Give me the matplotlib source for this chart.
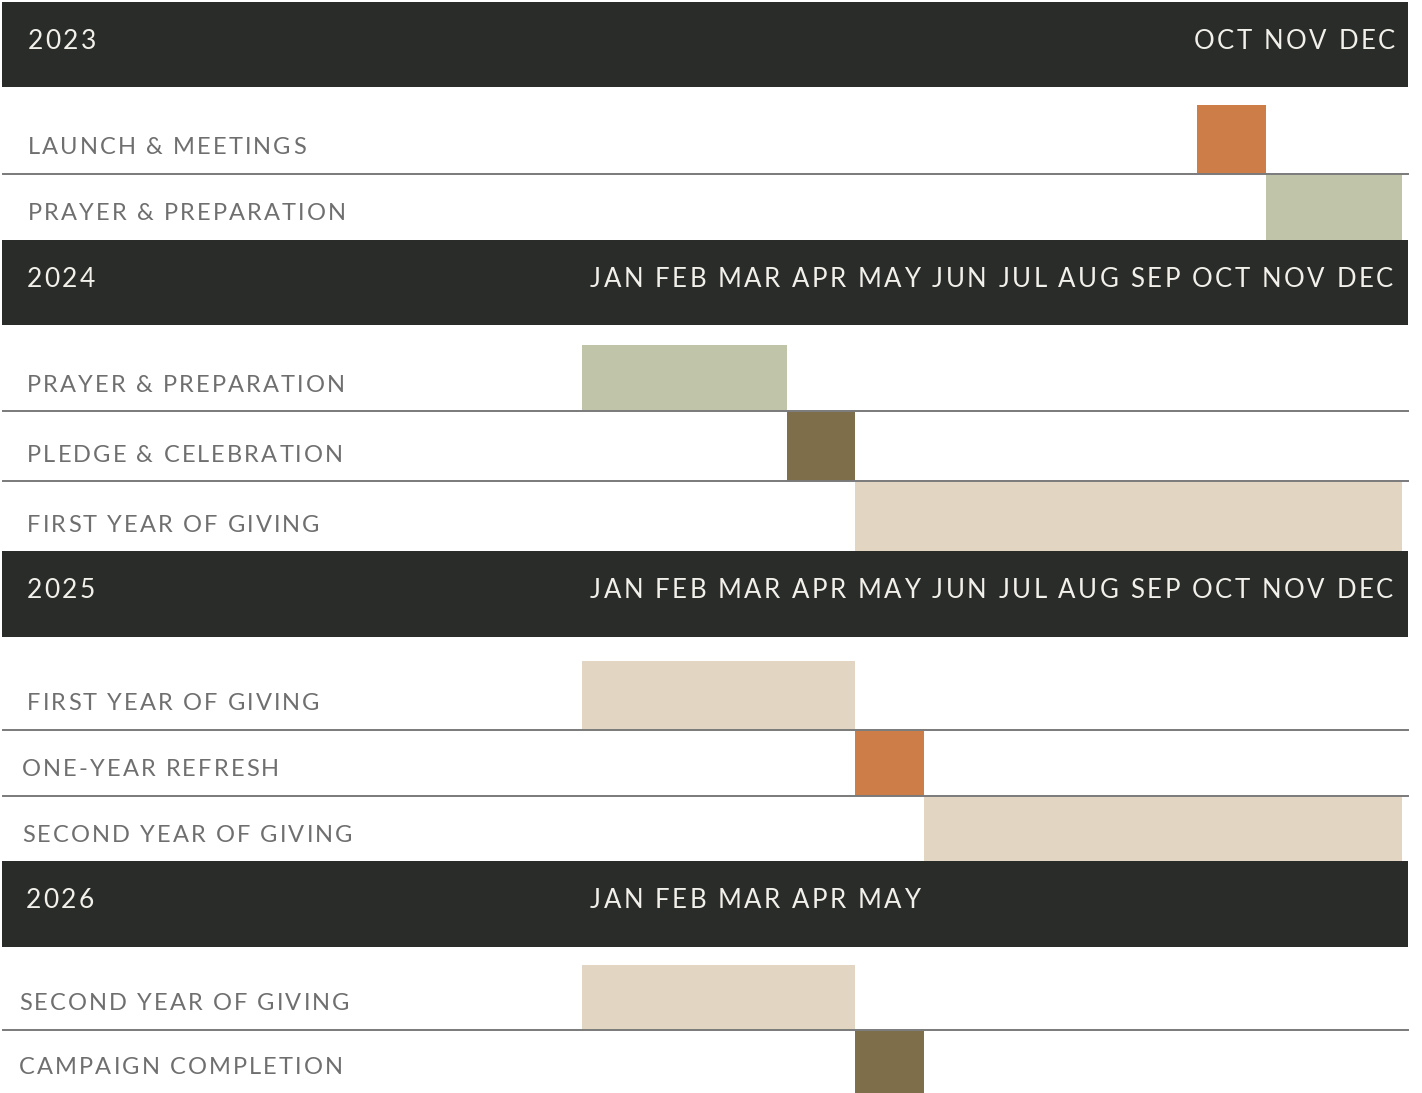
import matplotlib
matplotlib.use("Agg")
import matplotlib.pyplot as plt
from matplotlib.patches import Rectangle
from matplotlib.font_manager import FontProperties

years = ["2023", "2024", "2025", "2026"]
month_names = ["JAN", "FEB", "MAR", "APR", "MAY", "JUN",
               "JUL", "AUG", "SEP", "OCT", "NOV", "DEC"]
year_first_month = [9, 0, 0, 0]
year_last_month = [12, 12, 12, 5]

task_labels = [
    ["LAUNCH & MEETINGS", "PRAYER & PREPARATION"],
    ["PRAYER & PREPARATION", "PLEDGE & CELEBRATION", "FIRST YEAR OF GIVING"],
    ["FIRST YEAR OF GIVING", "ONE-YEAR REFRESH", "SECOND YEAR OF GIVING"],
    ["SECOND YEAR OF GIVING", "CAMPAIGN COMPLETION"],
]
task_start = [[9, 10], [0, 3, 4], [0, 4, 5], [0, 4]]
task_end = [[10, 12], [3, 4, 12], [4, 5, 12], [4, 5]]
task_phase = [
    ["launch", "prayer"],
    ["prayer", "pledge", "giving"],
    ["giving", "launch", "giving"],
    ["giving", "pledge"],
]

phase_colors = {
    "launch": "#cd7d47",
    "prayer": "#c0c4a8",
    "pledge": "#7e6f4a",
    "giving": "#e2d6c2",
}
dark = "#2a2c29"
label_gray = "#6f6f6f"
header_text = "#f2f0ea"
font = "Lato"

# layout in pixels (top, bottom) for each header band and each task row
header_y = [(2, 87), (240, 325), (551, 637), (861, 947)]
row_y = [
    [(105, 174), (175, 240)],
    [(345, 411), (412, 481), (482, 551)],
    [(661, 730), (731, 796), (797, 861)],
    [(965, 1030), (1031, 1093)],
]
label_x = [[28, 28], [27, 27, 27], [27, 22, 22], [19, 19]]
year_x = [28, 27, 27, 26]

W, H = 1422, 1093
x0_px, month_px = 581.5, 68.4
month_left, month_right = 590, 1393

fig = plt.figure(figsize=(W / 100, H / 100), dpi=100)
ax = fig.add_axes([0, 0, 1, 1])
ax.set_xlim(-x0_px / month_px, (W - x0_px) / month_px)
ax.set_ylim(H, 0)
ax.axis("off")
tr = ax.get_yaxis_transform()  # x in axes fraction, y in data
renderer = fig.canvas.get_renderer()


def text_w(s, fp):
    w, h, d = renderer.get_text_width_height_descent(s + "X", fp, ismath=False)
    wx, h, d = renderer.get_text_width_height_descent("X", fp, ismath=False)
    return w - wx


def spaced_text(x_px, y, s, size, color, track, ha="left"):
    # letter-spaced text, drawn one character at a time
    fp = FontProperties(family=font, size=size)
    total = text_w(s, fp) + track * (len(s) - 1)
    if ha == "right":
        x_px = x_px - total
    for k, ch in enumerate(s):
        if ch == " ":
            continue
        xk = x_px + text_w(s[:k], fp) + track * k
        ax.text(xk / W, y, ch, transform=tr, color=color,
                fontproperties=fp, va="center", ha="left")


# tracking for the month strip so that a full year fills the header
month_size = 18.5
full = " ".join(month_names)
fp_m = FontProperties(family=font, size=month_size)
month_track = (month_right - month_left - text_w(full, fp_m)) / (len(full) - 1)

for i, year in enumerate(years):
    top, bot = header_y[i]
    ax.add_patch(Rectangle((2 / W, top), 1406 / W, bot - top,
                           transform=tr, color=dark, lw=0))
    yc = (top + bot) / 2 - 3
    spaced_text(year_x[i], yc, year, 19, header_text, 2.3)
    strip = " ".join(month_names[year_first_month[i]:year_last_month[i]])
    if year_last_month[i] == 12 and year_first_month[i] > 0:
        spaced_text(month_right + 2, yc, strip, month_size, header_text,
                    month_track, ha="right")
    else:
        spaced_text(month_left, yc, strip, month_size, header_text, month_track)

    for j, label in enumerate(task_labels[i]):
        rtop, rbot = row_y[i][j]
        s, e = task_start[i][j], task_end[i][j]
        ax.barh((rtop + rbot) / 2, e - s, left=s, height=rbot - rtop,
                color=phase_colors[task_phase[i][j]], lw=0)
        spaced_text(label_x[i][j], rbot - 26, label, 17, label_gray, 2.1)
        if j < len(task_labels[i]) - 1:
            ax.plot([3 / W, 1408 / W], [rbot, rbot], transform=tr,
                    color="#7a7a7a", lw=1.4)

fig.savefig("out.png", dpi=100, facecolor="white")
